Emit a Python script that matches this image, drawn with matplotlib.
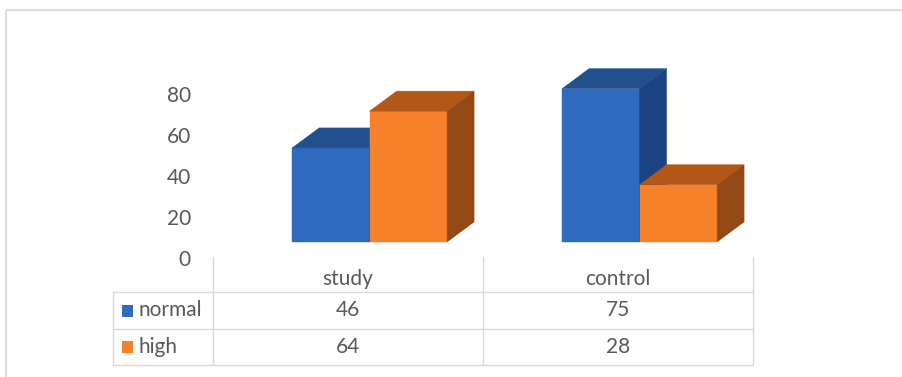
import matplotlib
matplotlib.use("Agg")
import matplotlib.pyplot as plt
from matplotlib.patches import Polygon, Rectangle

# Data
categories = ["study", "control"]
series_names = ["normal", "high"]
normal = [46, 75]
high = [64, 28]
y_ticks = [0, 20, 40, 60, 80]

plt.rcParams["font.family"] = ["Lato", "DejaVu Sans"]
TEXT = "#595959"
GRID = "#D9D9D9"
FS = 15

face_colors = {
    "normal": ("#2E6BBF", "#22508F", "#1B4480"),
    "high": ("#F7812A", "#B25717", "#944914"),
}

W, H = 902, 377
fig = plt.figure(figsize=(W / 100, H / 100), dpi=100)

# Background axes in pixel units for the frame and the data table
bg = fig.add_axes([0, 0, 1, 1])
bg.set_xlim(0, W)
bg.set_ylim(H, 0)
bg.axis("off")

bg.plot([6, W], [10, 10], color="#DDDDDD", lw=1.6, solid_capstyle="butt")
bg.plot([6, 6], [10, H], color="#DDDDDD", lw=1.6, solid_capstyle="butt")

col_edges = [213, 483, 753]
row_lines = [292, 329, 365]
for x in col_edges:
    bg.plot([x, x], [257, 365], color=GRID, lw=1.0)
for y in row_lines:
    bg.plot([113, 753], [y, y], color=GRID, lw=1.0)
bg.plot([113, 113], [292, 365], color=GRID, lw=1.0)

col_centers = [(col_edges[i] + col_edges[i + 1]) / 2 for i in range(len(categories))]
for cx, cat in zip(col_centers, categories):
    bg.text(cx, 279, cat, ha="center", va="center", fontsize=FS, color=TEXT)

row_centers = [(row_lines[i] + row_lines[i + 1]) / 2 for i in range(len(series_names))]
for ry, name, vals in zip(row_centers, series_names, [normal, high]):
    bg.add_patch(Rectangle((122, ry - 6), 11, 12, color=face_colors[name][0], lw=0))
    bg.text(139, ry, name, ha="left", va="center", fontsize=FS, color=TEXT)
    for cx, v in zip(col_centers, vals):
        bg.text(cx, ry, f"{v}", ha="center", va="center", fontsize=FS, color=TEXT)

# Chart axes: value axis with pseudo-3D columns
left_px, right_px, bottom_px, top_px = 213, 753, 257.5, 50
px_per_unit = 2.044
ax = fig.add_axes([left_px / W, (H - bottom_px) / H,
                   (right_px - left_px) / W, (bottom_px - top_px) / H])
ax.set_xlim(-0.5, len(categories) - 0.5)
ax.set_ylim(0, (bottom_px - top_px) / px_per_unit)
ax.patch.set_alpha(0)
for s in ax.spines.values():
    s.set_visible(False)
ax.set_xticks([])
ax.set_yticks(y_ticks)
ax.set_yticklabels([str(t) for t in y_ticks])
ax.tick_params(axis="y", length=0, pad=16, labelsize=FS, labelcolor=TEXT)

base = 7.6          # floor of the 3D plot sits above the value origin
bar_w = 0.287
shift = 0.08
dx, dy = 0.1, 9.8   # depth of the extrusion

for j, (name, vals) in enumerate(zip(series_names, [normal, high])):
    front_c, top_c, side_c = face_colors[name]
    for i, v in enumerate(vals):
        x0 = i + shift - bar_w + j * bar_w
        x1 = x0 + bar_w
        b, t = base, base + v
        ax.add_patch(Polygon([(x0, b), (x1, b), (x1, t), (x0, t)],
                             closed=True, facecolor=front_c, edgecolor=front_c, lw=0.3))
        ax.add_patch(Polygon([(x0, t), (x1, t), (x1 + dx, t + dy), (x0 + dx, t + dy)],
                             closed=True, facecolor=top_c, edgecolor=top_c, lw=0.3))
        ax.add_patch(Polygon([(x1, b), (x1 + dx, b + dy), (x1 + dx, t + dy), (x1, t)],
                             closed=True, facecolor=side_c, edgecolor=side_c, lw=0.3))

fig.savefig("out.png", dpi=100)
